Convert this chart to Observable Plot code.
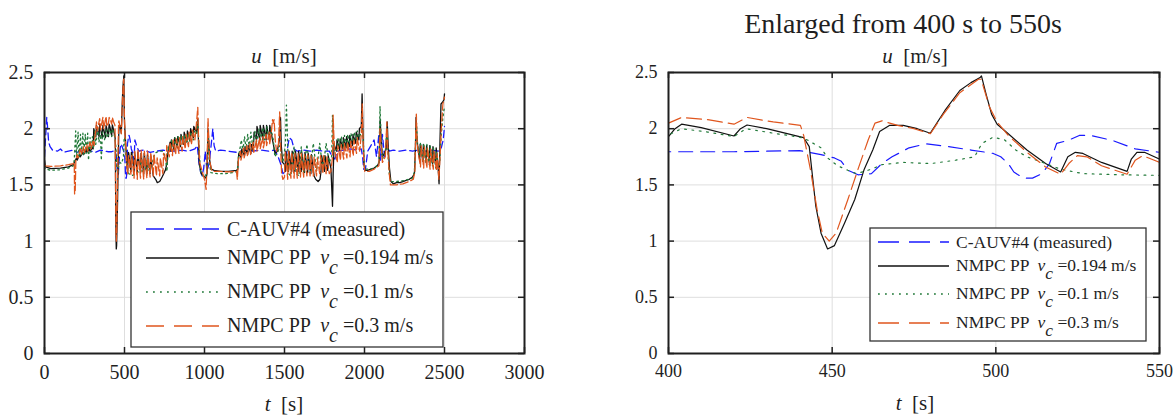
<!DOCTYPE html>
<html><head><meta charset="utf-8">
<script src="https://cdn.jsdelivr.net/npm/d3@7"></script>
<script src="https://cdn.jsdelivr.net/npm/@observablehq/plot@0.6"></script>
<style>
html,body{margin:0;padding:0;background:#fff;}
#wrap{position:relative;width:1173px;height:417px;overflow:hidden;background:#fff;}
#left{position:absolute;left:0;top:0;}
#right{position:absolute;left:600px;top:0;}
#wrap svg, #wrap svg text{font-family:"Liberation Serif","Times New Roman",serif !important;}
svg text{white-space:pre;}
</style></head><body>
<div id="wrap"><div id="left"></div><div id="right"></div></div>
<script>
// ---------------- data (time [s], u [m/s]) ----------------
const seriesLabels = ["C-AUV#4 (measured)", "NMPC PP", "NMPC PP", "NMPC PP"];
const vcLabels = [null, "=0.194 m/s", "=0.1 m/s", "=0.3 m/s"];
const xTicksLeft = [0, 500, 1000, 1500, 2000, 2500, 3000];
const xTicksRight = [400, 450, 500, 550];
const yTicks = [0, 0.5, 1, 1.5, 2, 2.5];

const measured = [[0,1.75],[8,1.95],[14,2.1],[20,2.0],[26,1.88],[35,1.84],[50,1.81],[80,1.8],[100,1.82],[120,1.79],[150,1.8],[180,1.81],[200,1.79],[230,1.8],[260,1.82],[290,1.8],[320,1.79],[350,1.81],[380,1.8],[400,1.795],[420,1.795],[440,1.805],[446.6,1.77],[450.7,1.74],[452.8,1.71],[454.8,1.63],[457.9,1.59],[462,1.6],[465.2,1.69],[468.3,1.75],[473.5,1.83],[478.7,1.865],[485.6,1.84],[492.4,1.81],[497,1.79],[499.2,1.78],[501.5,1.75],[503.8,1.69],[505.5,1.615],[508.4,1.56],[511.2,1.56],[514.1,1.6],[516.4,1.69],[518.6,1.87],[522,1.895],[525.5,1.94],[528.9,1.94],[535.7,1.895],[542.6,1.82],[550,1.79],[560,1.72],[565,1.9],[575,1.85],[590,1.8],[620,1.81],[660,1.79],[700,1.8],[740,1.81],[780,1.8],[820,1.8],[860,1.81],[900,1.8],[940,1.82],[955,1.85],[965,1.7],[975,1.62],[985,1.58],[995,1.65],[1005,1.8],[1015,1.62],[1030,1.7],[1045,1.9],[1052,2.0],[1060,1.85],[1070,1.8],[1100,1.81],[1150,1.8],[1200,1.79],[1250,1.81],[1300,1.8],[1350,1.81],[1400,1.8],[1440,1.81],[1460,1.75],[1478,1.68],[1490,1.6],[1505,1.62],[1515,1.8],[1530,1.92],[1545,1.9],[1560,1.82],[1580,1.8],[1620,1.81],[1660,1.8],[1700,1.81],[1740,1.8],[1780,1.8],[1800,1.75],[1815,1.73],[1830,1.8],[1870,1.81],[1910,1.82],[1950,1.81],[1980,1.82],[1988,1.75],[1995,1.64],[2005,1.63],[2020,1.8],[2040,1.85],[2060,1.9],[2075,1.75],[2090,1.95],[2100,1.72],[2112,1.95],[2125,1.75],[2140,1.9],[2155,1.8],[2180,1.81],[2220,1.8],[2260,1.81],[2300,1.8],[2340,1.81],[2380,1.8],[2420,1.81],[2460,1.8],[2480,1.83],[2492,1.9],[2500,2.02]];

const nmpc0194 = [[0,1.72],[6,1.66],[40,1.645],[100,1.65],[150,1.66],[180,1.68],[190,1.71],[200,1.74],[204,1.72],[220,1.77],[224,1.75],[240,1.79],[244,1.77],[260,1.81],[264,1.79],[280,1.82],[284,1.8],[300,1.83],[304,1.82],[308,2.0],[321,1.93],[325,2.03],[341,1.93],[345,2.04],[361,1.92],[365,2.03],[381,1.92],[385,2.03],[400,1.93],[402,2.0],[404,2.04],[410,2.01],[420,1.935],[422,2.0],[424,2.033],[430,2.0],[440,1.93],[441.3,1.92],[443,1.84],[444,1.575],[445,1.31],[446.6,1.07],[448.6,0.93],[450.7,0.96],[453.8,1.16],[456.9,1.37],[459.8,1.64],[462.4,1.81],[464.5,1.975],[467.6,2.03],[471.7,2.03],[476,2.0],[480,1.96],[484.4,2.16],[489,2.34],[492.4,2.41],[495.2,2.455],[495.6,2.47],[497,2.31],[498.7,2.13],[500.4,2.04],[503.8,1.955],[509.5,1.81],[515.2,1.69],[519.8,1.615],[522,1.75],[524.3,1.79],[526.6,1.78],[532.3,1.7],[540.1,1.62],[541.4,1.73],[543.1,1.79],[545.4,1.79],[550,1.73],[560,1.62],[563,1.79],[580,1.61],[583,1.79],[600,1.61],[603,1.78],[620,1.6],[623,1.78],[640,1.6],[643,1.77],[660,1.6],[663,1.76],[680,1.58],[695,1.55],[705,1.52],[720,1.53],[735,1.57],[745,1.6],[755,1.63],[765,1.69],[772,1.8],[785,1.88],[790,1.8],[793,1.9],[810,1.81],[813,1.92],[830,1.83],[833,1.93],[850,1.84],[853,1.95],[870,1.86],[873,1.97],[890,1.88],[893,1.98],[910,1.9],[913,2.0],[930,1.92],[933,2.02],[950,1.97],[958,2.09],[962,1.9],[968,1.68],[980,1.6],[995,1.58],[1010,1.56],[1016,1.6],[1022,2.0],[1026,1.9],[1032,1.72],[1042,1.64],[1060,1.63],[1100,1.62],[1150,1.62],[1200,1.63],[1208,1.64],[1214,1.78],[1230,1.74],[1233,1.82],[1250,1.76],[1253,1.84],[1270,1.77],[1273,1.85],[1290,1.78],[1293,1.86],[1305,1.8],[1310,1.97],[1325,1.9],[1328,2.02],[1345,1.9],[1348,2.03],[1365,1.9],[1368,2.03],[1385,1.9],[1388,2.03],[1405,1.9],[1408,2.03],[1425,1.9],[1432,1.85],[1440,1.78],[1455,1.8],[1468,1.9],[1475,2.1],[1480,1.85],[1488,1.7],[1500,1.68],[1505,1.62],[1508,1.8],[1525,1.62],[1528,1.8],[1545,1.62],[1548,1.8],[1565,1.62],[1568,1.8],[1585,1.62],[1588,1.8],[1605,1.62],[1608,1.79],[1625,1.61],[1628,1.79],[1645,1.61],[1648,1.78],[1665,1.6],[1668,1.77],[1685,1.58],[1695,1.55],[1710,1.53],[1722,1.55],[1728,1.62],[1732,1.76],[1750,1.62],[1753,1.76],[1770,1.63],[1773,1.76],[1790,1.65],[1796,1.45],[1800,1.31],[1804,1.6],[1810,1.86],[1825,1.8],[1828,1.9],[1845,1.81],[1848,1.91],[1865,1.82],[1868,1.92],[1885,1.83],[1888,1.93],[1905,1.84],[1908,1.94],[1925,1.85],[1928,1.95],[1945,1.87],[1948,1.97],[1965,1.9],[1968,2.0],[1980,2.02],[1985,2.31],[1990,2.0],[1996,1.7],[2002,1.63],[2020,1.63],[2040,1.64],[2060,1.65],[2080,1.67],[2092,1.7],[2098,2.08],[2104,1.9],[2112,1.75],[2125,1.78],[2135,1.82],[2142,2.06],[2148,1.85],[2156,1.65],[2165,1.53],[2180,1.51],[2200,1.52],[2220,1.52],[2240,1.53],[2260,1.54],[2280,1.55],[2300,1.57],[2312,1.6],[2318,1.8],[2322,2.1],[2326,1.95],[2332,1.85],[2345,1.72],[2348,1.86],[2365,1.71],[2368,1.86],[2385,1.7],[2388,1.85],[2405,1.7],[2408,1.85],[2425,1.69],[2428,1.84],[2445,1.68],[2448,1.83],[2458,1.7],[2466,1.51],[2472,1.9],[2478,2.22],[2490,2.24],[2497,2.26],[2500,2.31]];

const nmpc01 = [[0,1.66],[6,1.64],[40,1.63],[100,1.635],[150,1.65],[180,1.67],[186,1.72],[195,1.98],[200,1.75],[210,1.97],[215,1.74],[225,1.95],[230,1.76],[240,1.96],[245,1.77],[255,1.95],[260,1.78],[270,1.96],[275,1.72],[285,1.92],[290,1.79],[300,1.93],[305,1.82],[315,1.98],[320,1.86],[335,2.0],[340,1.88],[350,1.95],[355,1.72],[362,1.97],[375,1.9],[385,1.99],[392,1.92],[400,1.944],[404,2.0],[412,1.97],[420,1.93],[423.7,2.0],[432,1.96],[440,1.925],[442.4,1.9],[446.6,1.83],[448.6,1.74],[451.7,1.67],[454.8,1.63],[457.4,1.6],[462,1.64],[465.2,1.68],[471.7,1.7],[480.2,1.69],[487.8,1.72],[493.5,1.75],[495.2,1.84],[496.4,1.88],[499.2,1.925],[502.7,1.9],[506.1,1.81],[509.5,1.75],[515.2,1.69],[519.8,1.64],[526.6,1.6],[538,1.59],[550,1.585],[570,1.6],[590,1.62],[600,1.7],[610,1.62],[630,1.63],[640,1.72],[650,1.63],[670,1.65],[680,1.74],[690,1.78],[700,1.79],[720,1.8],[740,1.8],[755,1.75],[765,1.62],[775,1.85],[790,1.82],[795,1.9],[810,1.83],[815,1.92],[830,1.84],[835,1.93],[850,1.85],[855,1.94],[870,1.86],[875,1.95],[890,1.87],[895,1.96],[910,1.88],[915,1.97],[930,1.9],[935,1.98],[950,1.95],[958,2.06],[965,1.85],[975,1.62],[990,1.58],[1005,1.57],[1015,1.62],[1022,1.95],[1030,1.7],[1040,1.61],[1080,1.6],[1130,1.6],[1180,1.61],[1205,1.62],[1212,1.75],[1225,1.85],[1230,1.9],[1240,1.8],[1250,1.93],[1260,1.82],[1270,1.95],[1280,1.83],[1290,1.97],[1300,1.85],[1315,1.98],[1325,1.88],[1340,2.0],[1350,1.9],[1365,2.01],[1375,1.9],[1390,2.02],[1400,1.92],[1415,2.0],[1430,1.9],[1440,1.75],[1460,1.8],[1470,1.85],[1490,1.7],[1505,1.85],[1512,2.21],[1518,1.95],[1525,1.6],[1540,1.58],[1560,1.84],[1575,1.6],[1590,1.58],[1605,1.84],[1620,1.6],[1640,1.86],[1660,1.62],[1680,1.87],[1700,1.62],[1720,1.87],[1740,1.63],[1760,1.87],[1780,1.7],[1795,1.75],[1800,2.12],[1806,1.9],[1812,1.8],[1830,1.82],[1835,1.92],[1850,1.83],[1855,1.93],[1870,1.84],[1875,1.94],[1890,1.85],[1895,1.95],[1910,1.86],[1915,1.96],[1930,1.88],[1935,1.97],[1950,1.9],[1955,1.98],[1970,1.92],[1980,1.98],[1986,2.05],[1992,1.9],[1998,1.7],[2004,1.64],[2040,1.64],[2070,1.66],[2090,1.7],[2097,2.2],[2104,1.9],[2112,1.73],[2130,1.78],[2140,2.0],[2148,1.75],[2156,1.58],[2165,1.53],[2200,1.53],[2250,1.54],[2300,1.56],[2312,1.62],[2320,1.9],[2325,2.05],[2332,1.85],[2345,1.76],[2350,1.88],[2365,1.72],[2370,1.87],[2385,1.7],[2390,1.86],[2405,1.68],[2410,1.85],[2425,1.67],[2430,1.84],[2445,1.65],[2450,1.8],[2460,1.66],[2470,1.7],[2480,1.95],[2490,2.1],[2500,2.2]];

const nmpc03 = [[0,1.68],[6,1.67],[40,1.665],[100,1.67],[150,1.68],[180,1.69],[186,1.7],[188,1.42],[192,1.45],[196,1.72],[205,1.77],[210,1.74],[225,1.82],[230,1.77],[245,1.84],[250,1.79],[265,1.86],[270,1.8],[285,1.88],[290,1.82],[305,1.9],[310,1.85],[325,2.06],[330,1.98],[345,2.09],[350,1.99],[365,2.1],[370,2.0],[385,2.11],[390,2.02],[400,2.05],[404,2.1],[412,2.08],[420,2.04],[424,2.1],[432,2.06],[440.3,2.03],[441.3,1.94],[443.4,1.63],[445.4,1.28],[447,1.07],[449.1,1.0],[451.2,1.07],[454.8,1.37],[457.9,1.64],[461,1.9],[463.1,2.05],[465.2,2.07],[470,2.03],[475,2.0],[480,1.955],[484,2.13],[489,2.32],[494.7,2.44],[495.5,2.44],[498.1,2.19],[500.4,2.06],[503.8,1.94],[509.5,1.79],[515.2,1.66],[519.8,1.595],[522.3,1.69],[524.9,1.76],[527.8,1.75],[532.3,1.67],[540.1,1.595],[542.6,1.72],[544.9,1.76],[550,1.7],[560,1.56],[564,1.8],[580,1.55],[584,1.82],[600,1.56],[604,1.81],[620,1.55],[624,1.8],[640,1.56],[644,1.8],[660,1.57],[664,1.79],[680,1.58],[684,1.77],[700,1.58],[704,1.74],[720,1.58],[724,1.74],[740,1.6],[744,1.78],[760,1.7],[764,1.85],[780,1.75],[784,1.88],[800,1.76],[804,1.9],[820,1.77],[824,1.91],[840,1.78],[844,1.92],[860,1.8],[864,1.93],[880,1.82],[884,1.95],[900,1.84],[904,1.97],[920,1.86],[924,1.99],[940,1.9],[950,2.05],[958,2.19],[962,1.95],[970,1.7],[985,1.62],[1000,1.55],[1010,1.46],[1016,1.7],[1022,2.09],[1027,1.9],[1034,1.7],[1045,1.63],[1060,1.62],[1100,1.62],[1150,1.615],[1200,1.62],[1205,1.55],[1212,1.72],[1225,1.8],[1228,1.72],[1245,1.83],[1248,1.74],[1265,1.85],[1268,1.76],[1285,1.87],[1288,1.77],[1305,1.88],[1308,1.79],[1325,1.9],[1328,1.8],[1345,1.92],[1348,1.82],[1365,1.93],[1368,1.83],[1385,1.95],[1388,1.85],[1405,1.97],[1408,1.86],[1420,2.0],[1425,2.08],[1430,2.05],[1435,2.08],[1442,1.9],[1450,1.8],[1462,1.85],[1470,2.15],[1474,1.9],[1482,1.6],[1490,1.55],[1500,1.57],[1505,1.8],[1520,1.55],[1525,1.8],[1540,1.56],[1545,1.79],[1560,1.56],[1565,1.78],[1580,1.56],[1585,1.78],[1600,1.57],[1605,1.78],[1620,1.57],[1625,1.77],[1640,1.58],[1645,1.77],[1660,1.58],[1665,1.76],[1680,1.58],[1685,1.75],[1700,1.58],[1705,1.74],[1720,1.6],[1725,1.76],[1740,1.6],[1745,1.76],[1760,1.6],[1765,1.75],[1780,1.6],[1790,1.62],[1800,1.75],[1804,2.12],[1808,1.95],[1814,1.8],[1830,1.7],[1834,1.85],[1850,1.72],[1854,1.86],[1870,1.73],[1874,1.87],[1890,1.74],[1894,1.88],[1910,1.75],[1914,1.89],[1930,1.76],[1934,1.9],[1950,1.78],[1954,1.92],[1970,1.8],[1980,1.95],[1986,2.22],[1990,1.95],[1996,1.7],[2002,1.62],[2030,1.62],[2060,1.64],[2090,1.67],[2097,2.0],[2104,1.85],[2112,1.7],[2130,1.75],[2140,2.06],[2146,1.8],[2155,1.6],[2162,1.5],[2180,1.5],[2200,1.5],[2240,1.51],[2280,1.53],[2305,1.55],[2315,1.62],[2320,1.95],[2324,2.13],[2328,1.9],[2335,1.8],[2350,1.66],[2354,1.85],[2370,1.65],[2374,1.84],[2390,1.65],[2394,1.83],[2410,1.64],[2414,1.82],[2430,1.64],[2434,1.8],[2450,1.63],[2454,1.78],[2465,1.55],[2472,1.75],[2480,2.0],[2490,2.22],[2500,2.28]];

// ---------------- styling ----------------
const FONT = '"Liberation Serif", "Times New Roman", serif';
const INK = "#1f1f1f";
const series = [
  {data: measured, color: "#1a1aff", dashL: "7,4",   dashR: "14,8",   legL: "18,10", legR: "21,10"},
  {data: nmpc0194, color: "#111111", dashL: null,    dashR: null,     legL: null,    legR: null},
  {data: nmpc01,   color: "#227a3a", dashL: "1.6,3.4", dashR: "1.8,5.6", legL: "1.8,5.2", legR: "1.8,5.2"},
  {data: nmpc03,   color: "#e0561e", dashL: "8,3",   dashR: "15,6",   legL: "18,10", legR: "21,10"}
];

function makePanel(cfg) {
  const {width, height, ml, mr, mt, mb, xdom, xticks, fs, dashKey, lw} = cfg;
  const H = height - mt - mb, W = width - ml - mr;
  const marks = [
    Plot.gridX({ticks: xticks, stroke: "#dedede", strokeOpacity: 1, strokeWidth: 1}),
    Plot.gridY({ticks: yTicks, stroke: "#dedede", strokeOpacity: 1, strokeWidth: 1})
  ];
  for (const s of series) {
    marks.push(Plot.line(s.data, {x: d => d[0], y: d => d[1], stroke: s.color, strokeWidth: lw,
      strokeDasharray: s[dashKey] || undefined, clip: true}));
  }
  marks.push(
    Plot.tickX(xticks, {x: d => d, insetTop: H - 6, stroke: INK, strokeWidth: 1.5}),
    Plot.tickX(xticks, {x: d => d, insetBottom: H - 6, stroke: INK, strokeWidth: 1.5}),
    Plot.tickY(yTicks, {y: d => d, insetRight: W - 6, stroke: INK, strokeWidth: 1.5}),
    Plot.tickY(yTicks, {y: d => d, insetLeft: W - 6, stroke: INK, strokeWidth: 1.5}),
    Plot.frame({stroke: INK, strokeWidth: 2}),
    Plot.axisX({ticks: xticks, tickSize: 0, tickPadding: 11, tickFormat: d => String(d), label: null, fontSize: fs, fontFamily: FONT, fill: INK}),
    Plot.axisY({ticks: yTicks, tickSize: 0, tickPadding: 11, tickFormat: d => String(d), label: null, fontSize: fs, fontFamily: FONT, fill: INK})
  );
  return Plot.plot({
    width, height, marginLeft: ml, marginRight: mr, marginTop: mt, marginBottom: mb,
    x: {domain: xdom}, y: {domain: [0, 2.5]},
    style: {fontFamily: FONT, fontSize: fs + "px", background: "transparent", color: INK, overflow: "visible"},
    marks
  });
}

function addText(svg, x, y, parts, size, anchor = "middle") {
  const t = d3.select(svg).append("text").attr("x", x).attr("y", y)
    .attr("text-anchor", anchor).attr("font-family", FONT).attr("font-size", size).attr("fill", INK);
  for (const p of parts) {
    const ts = t.append("tspan").text(p.t);
    if (p.italic) ts.attr("font-style", "italic");
    if (p.dy) ts.attr("dy", p.dy);
  }
  return t;
}

function addLegend(svg, box, rows, size, lx1, lx2, tx, dashKey, sub) {
  const g = d3.select(svg).append("g");
  g.append("rect").attr("x", box[0]).attr("y", box[1]).attr("width", box[2]).attr("height", box[3])
    .attr("fill", "#fff").attr("stroke", "#333").attr("stroke-width", 1.3);
  series.forEach((s, i) => {
    const ly = rows[i];
    g.append("line").attr("x1", lx1).attr("x2", lx2).attr("y1", ly).attr("y2", ly)
      .attr("stroke", s.color).attr("stroke-width", 1.5)
      .attr("stroke-dasharray", s[dashKey] || null);
    if (i === 0) {
      addText(svg, tx, ly + size * 0.33, [{t: seriesLabels[0]}], size, "start");
    } else {
      addText(svg, tx, ly + size * 0.3, [
        {t: seriesLabels[i] + "  "}, {t: "v", italic: true},
        {t: "c", italic: true, dy: sub},
        {t: " " + vcLabels[i], dy: "-" + sub}
      ], size, "start");
    }
  });
}

// ---------------- left panel ----------------
const left = makePanel({width: 560, height: 417, ml: 44, mr: 36, mt: 72, mb: 64,
  xdom: [0, 3000], xticks: xTicksLeft, fs: 20, dashKey: "dashL", lw: 1.3});
document.getElementById("left").appendChild(left);
addText(left, 284, 63, [{t: "u", italic: true}, {t: "  [m/s]"}], 21);
addText(left, 284, 411, [{t: "t", italic: true}, {t: "  [s]"}], 21);
addLegend(left, [131, 212, 312, 135], [229, 258, 292, 326], 20, 146, 219, 227, "legL", "0.5em");

// ---------------- right panel ----------------
const right = makePanel({width: 573, height: 417, ml: 68, mr: 14, mt: 72, mb: 64,
  xdom: [400, 550], xticks: xTicksRight, fs: 18, dashKey: "dashR", lw: 1.2});
document.getElementById("right").appendChild(right);
addText(right, 303, 33, [{t: "Enlarged from 400 s to 550s"}], 28);
addText(right, 315, 63, [{t: "u", italic: true}, {t: "  [m/s]"}], 21);
addText(right, 315, 410, [{t: "t", italic: true}, {t: "  [s]"}], 21);
addLegend(right, [270, 228, 276, 113], [242, 266, 294, 323], 17.5, 278, 349, 356, "legR", "0.45em");
</script>
</body></html>
